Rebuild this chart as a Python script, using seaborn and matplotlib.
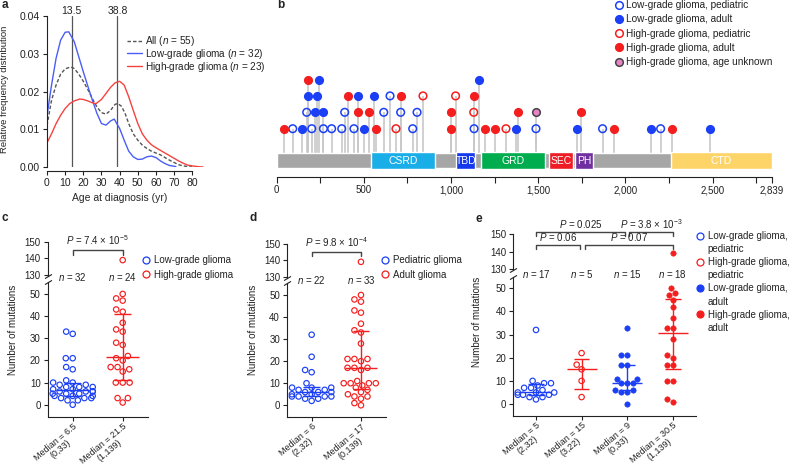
import numpy as np
import pandas as pd
import matplotlib
matplotlib.use("Agg")
import matplotlib.pyplot as plt
from matplotlib.lines import Line2D
import seaborn as sns

# ---------------- data ----------------
# panel a: age density curves
age_low = [0, 2.5, 5, 7.5, 10, 12, 15, 17.5, 20, 22.5, 25, 27.5, 30, 32.5, 35, 37, 40, 42.5, 45,
           47.5, 50, 52.5, 55, 57.5, 60, 62.5, 65, 67.5, 70, 71]
dens_low = [0.0135, 0.0217, 0.0288, 0.0336, 0.0357, 0.0358, 0.0332, 0.0292, 0.0252, 0.0214, 0.0177,
            0.0142, 0.0115, 0.0111, 0.0122, 0.0127, 0.0102, 0.0071, 0.0042, 0.0027, 0.0020, 0.0021,
            0.0027, 0.0029, 0.0025, 0.0016, 0.0009, 0.0004, 0.0002, 0.0001]
age_all = [0, 2.5, 5, 7.5, 10, 13, 15, 17.5, 20, 22.5, 25, 27.5, 30, 32.5, 35, 37.5, 39, 41, 43, 45,
           47.5, 50, 52.5, 55, 57.5, 60, 62.5, 65, 67.5, 70, 72.5, 75, 78, 80]
dens_all = [0.0110, 0.0177, 0.0217, 0.0246, 0.0260, 0.0265, 0.0261, 0.0246, 0.0227, 0.0205, 0.0181,
            0.0159, 0.0144, 0.0140, 0.0150, 0.0166, 0.0168, 0.0161, 0.0142, 0.0115, 0.0088, 0.0071,
            0.0058, 0.0049, 0.0042, 0.0037, 0.0032, 0.0025, 0.0018, 0.0012, 0.0006, 0.0003, 0.0001, 0.0]
age_high = [0, 2.5, 5, 7.5, 10, 12.5, 15, 18, 20, 22.5, 25, 27, 30, 32.5, 35, 37.5, 40, 42.5, 45,
            47.5, 50, 52.5, 55, 57.5, 60, 62.5, 65, 67.5, 70, 72.5, 75, 77.5, 80, 83, 86]
dens_high = [0.0064, 0.0088, 0.0115, 0.0137, 0.0155, 0.0168, 0.0175, 0.0180, 0.0179, 0.0175, 0.0170,
             0.0168, 0.0179, 0.0195, 0.0211, 0.0223, 0.0227, 0.0217, 0.0186, 0.0150, 0.0115, 0.0088,
             0.0071, 0.0059, 0.0051, 0.0044, 0.0037, 0.0030, 0.0023, 0.0016, 0.0010, 0.0005, 0.0003,
             0.0001, 0.0]
peak_ages = [13.5, 38.8]

# panel b: mutation positions (aa) and stack level
lgg_ped_pos = [92, 201, 268, 315, 373, 443, 780, 1132, 1487, 1869, 2202, 172, 390, 614, 711, 805, 650]
lgg_ped_lvl = [1, 1, 1, 1, 1, 1, 1, 1, 1, 1, 1, 2, 2, 2, 2, 2, 3]
lgg_adu_pos = [143, 501, 1372, 1722, 2144, 2483, 220, 268, 182, 233, 466, 556, 245, 1158]
lgg_adu_lvl = [1, 1, 1, 1, 1, 1, 2, 2, 3, 3, 3, 3, 4, 4]
hgg_ped_pos = [684, 1315, 1130, 839, 1026]
hgg_ped_lvl = [1, 1, 2, 3, 3]
hgg_adu_pos = [40, 570, 1000, 1197, 1250, 1936, 2267, 466, 529, 1000, 1382, 1743, 407, 711, 1130, 182]
hgg_adu_lvl = [1, 1, 1, 1, 1, 1, 1, 2, 2, 2, 2, 2, 3, 3, 3, 4]
hgg_unk_pos = [1487]
hgg_unk_lvl = [2]
protein_len = 2839
domain_names = ["CSRD", "TBD", "GRD", "SEC", "PH", "CTD"]
domain_start = [543, 1030, 1172, 1560, 1713, 2260]
domain_end = [909, 1140, 1538, 1698, 1816, 2839]
domain_colors = ["#1aaee8", "#1438ee", "#00ad4e", "#ee1c25", "#7030a0", "#fdd468"]

# panel c
c_groups = ["Low-grade glioma", "High-grade glioma"]
c_low = [33, 32, 21, 21, 17, 16, 11, 10, 10, 9, 9, 8, 8, 8, 7, 7, 6, 6, 6, 6, 5, 5, 5, 4, 4, 4,
         3, 3, 3, 2, 2, 0]
c_high = [139, 50, 48, 47, 43, 42, 37, 34, 33, 28, 27, 22, 21, 20, 17, 17, 16, 15, 10, 10, 10, 3, 3, 1]
c_labels = ["Median = 6.5\n(0,33)", "Median = 21.5\n(1,139)"]

# panel d
d_groups = ["Pediatric glioma", "Adult glioma"]
d_ped = [32, 22, 16, 15, 10, 8, 8, 8, 7, 7, 6, 6, 6, 5, 5, 4, 4, 4, 4, 3, 3, 2]
d_adu = [139, 50, 48, 47, 43, 42, 37, 34, 33, 28, 21, 21, 21, 20, 17, 17, 17, 16, 11, 10, 10, 10,
         10, 9, 8, 7, 6, 5, 4, 4, 3, 1, 0]
d_labels = ["Median = 6\n(2,32)", "Median = 17\n(0,139)"]

# panel e
e_groups = ["LGG ped", "HGG ped", "LGG adult", "HGG adult"]
e_lgg_ped = [32, 10, 9, 9, 8, 7, 7, 6, 5, 5, 5, 4, 4, 4, 3, 3, 2]
e_hgg_ped = [22, 17, 15, 10, 3]
e_lgg_adu = [33, 21, 21, 17, 17, 11, 11, 9, 9, 9, 6, 6, 5, 5, 0]
e_hgg_adu = [139, 50, 48, 47, 45, 42, 37, 33, 33, 28, 21, 20, 17, 17, 10, 10, 2, 1]
e_labels = ["Median = 5\n(2,32)", "Median = 15\n(3,22)", "Median = 9\n(0,33)", "Median = 30.5\n(1,139)"]
e_legend = ["Low-grade glioma,", "pediatric", "High-grade glioma,", "pediatric",
            "Low-grade glioma,", "adult", "High-grade glioma,", "adult"]

BLUE = "#1b3ff5"
RED = "#f41e1e"
PINK = "#e983c7"
W, H = 800, 474

sns.set_style("ticks")
plt.rcParams["font.family"] = ["Liberation Sans", "DejaVu Sans"]
plt.rcParams["mathtext.fontset"] = "custom"
plt.rcParams["mathtext.rm"] = "Liberation Sans"
plt.rcParams["mathtext.it"] = "Liberation Sans:italic"
plt.rcParams.update({"axes.linewidth": 0.8, "xtick.major.width": 0.8, "ytick.major.width": 0.8,
                     "xtick.minor.width": 0.8, "xtick.major.size": 3, "ytick.major.size": 3,
                     "xtick.color": "#222222", "ytick.color": "#222222",
                     "axes.edgecolor": "#222222", "text.color": "#222222"})


def px_rect(l, t, r, b):
    return [l / W, 1 - b / H, (r - l) / W, (b - t) / H]


fig = plt.figure(figsize=(8, 4.74), dpi=100)

# ---------------- a ----------------
ax = fig.add_axes(px_rect(47, 16, 206.8, 167))
sns.lineplot(x=age_all, y=dens_all, ax=ax, color="#555555", lw=1, ls=(0, (2.5, 1.5)), label="All ($n$ = 55)")
sns.lineplot(x=age_low, y=dens_low, ax=ax, color="#4a5ef5", lw=1, label="Low-grade glioma ($n$ = 32)")
sns.lineplot(x=age_high, y=dens_high, ax=ax, color="#f4433f", lw=1, label="High-grade glioma ($n$ = 23)")
for a in peak_ages:
    ax.axvline(a, color="#555555", lw=0.9, zorder=0)
    ax.text(a, 0.0412, f"{a}", ha="center", va="center", fontsize=7.5)
ax.set_xlim(0, 88)
ax.set_ylim(0, 0.04)
ax.set_xticks(range(0, 81, 10))
ax.set_yticks([0, 0.01, 0.02, 0.03, 0.04])
ax.set_yticklabels(["0.00", "0.01", "0.02", "0.03", "0.04"])
ax.tick_params(labelsize=7.5, pad=2)
sns.despine(ax=ax)
ax.spines["bottom"].set_position(("outward", 3))
ax.spines["bottom"].set_bounds(0, 80)
ax.set_xlabel("Age at diagnosis (yr)", fontsize=7.5)
ax.xaxis.set_label_coords(40 / 88, -0.175)
ax.set_ylabel("")
fig.text(5 / W, 1 - 89 / H, "Relative frequency distribution", rotation=90, ha="center", va="center",
         fontsize=6.8)
ax.legend(loc="upper left", bbox_to_anchor=(127 / W, 1 - 34 / H), bbox_transform=fig.transFigure,
          frameon=False, fontsize=7.2, borderpad=0, borderaxespad=0, handlelength=1.5,
          handletextpad=0.3, labelspacing=-0.12)

# ---------------- b ----------------
ax = fig.add_axes(px_rect(276.7, 70, 771.7, 177))
bar_lo, bar_hi = -1.396, -0.482
bar_c, bar_h = (bar_lo + bar_hi) / 2, bar_hi - bar_lo
ax.barh(bar_c, protein_len, left=0, height=bar_h, color="#a6a6a6", zorder=1)
for name, s, e, col in zip(domain_names, domain_start, domain_end, domain_colors):
    ax.barh(bar_c, e - s, left=s, height=bar_h * 1.15, color=col, zorder=2)
    ax.text((s + e) / 2, bar_c, name, color="white", ha="center", va="center", fontsize=7.5, zorder=3)

groups_b = [
    (lgg_ped_pos, lgg_ped_lvl, "none", BLUE, "Low-grade glioma, pediatric"),
    (lgg_adu_pos, lgg_adu_lvl, BLUE, BLUE, "Low-grade glioma, adult"),
    (hgg_ped_pos, hgg_ped_lvl, "none", RED, "High-grade glioma, pediatric"),
    (hgg_adu_pos, hgg_adu_lvl, RED, RED, "High-grade glioma, adult"),
    (hgg_unk_pos, hgg_unk_lvl, PINK, "#444444", "High-grade glioma, age unknown"),
]
handles_b = []
for pos, lvl, fc, ec, lab in groups_b:
    ax.vlines(pos, bar_hi, lvl, color="#c8c8c8", lw=1.2, zorder=0)
    sns.scatterplot(x=pos, y=lvl, ax=ax, s=30, facecolor=fc, edgecolor=ec, linewidth=1.1, zorder=4)
    handles_b.append(Line2D([], [], ls="none", marker="o", ms=5.5, mfc=fc, mec=ec, mew=1.1))
ax.set_xlim(0, protein_len)
ax.set_ylim(-1.945, 4.58)
ax.set_xticks([0, 500, 1000, 1500, 2000, 2500, protein_len])
ax.set_xticklabels(["0", "500", "1,000", "1,500", "2,000", "2,500", "2,839"])
ax.set_xticks(list(range(250, 2800, 500)), minor=True)
ax.tick_params(axis="x", which="both", length=4, labelsize=7, pad=2)
ax.set_yticks([])
sns.despine(ax=ax, left=True)
fig.legend(handles_b, [g[4] for g in groups_b], loc="upper left", bbox_to_anchor=(615.8 / W, 1 - 0.2 / H),
           frameon=False, fontsize=7.2, borderpad=0, borderaxespad=0, handlelength=0.7,
           handletextpad=0.35, labelspacing=0.42)


# ---------------- c, d, e ----------------
def style_points(colls, color, filled):
    for coll in colls:
        coll.set_edgecolor(color)
        coll.set_facecolor(color if filled else "none")
        coll.set_linewidth(0.4 if filled else 0.85)


def mutation_panel(low_px, top_px, low_ylim, cats, vals, colors, filled, labels, n_y):
    ax_low = fig.add_axes(px_rect(*low_px))
    ax_top = fig.add_axes(px_rect(*top_px))
    for i, (cat, v) in enumerate(zip(cats, vals)):
        df = pd.DataFrame({"group": cat, "mutations": v})
        n0 = len(ax_low.collections)
        sns.swarmplot(data=df[df.mutations < 100], x="group", y="mutations", order=cats,
                      color=colors[i], size=3.9, ax=ax_low, zorder=3)
        style_points(ax_low.collections[n0:], colors[i], filled[i])
        hi = df[df.mutations >= 100]
        if len(hi):
            n0 = len(ax_top.collections)
            sns.stripplot(data=hi, x="group", y="mutations", order=cats, color=colors[i],
                          size=3.9, jitter=False, ax=ax_top, zorder=3)
            style_points(ax_top.collections[n0:], colors[i], filled[i])
        med = np.median(v)
        q1, q3 = np.percentile(v, [25, 75], method="weibull")
        ax_low.hlines(med, i - 0.33, i + 0.33, color=colors[i], lw=1, zorder=4)
        ax_low.hlines([q1, q3], i - 0.17, i + 0.17, color=colors[i], lw=1, zorder=4)
        ax_low.vlines(i, q1, q3, color=colors[i], lw=1, zorder=4)
        ax_top.text(i, n_y, f"$n$ = {len(v)}", ha="center", va="center", fontsize=7, clip_on=False)
    for a in (ax_low, ax_top):
        a.set_xlim(-0.5, len(cats) - 0.5)
        a.set_xlabel("")
        a.set_ylabel("")
        a.tick_params(labelsize=7, pad=2)
    ax_low.set_ylim(*low_ylim)
    ax_low.set_yticks(range(0, 51, 10))
    ax_low.set_xticks(range(len(cats)))
    ax_low.set_xticklabels(labels, rotation=40, ha="right", va="top", rotation_mode="anchor",
                           multialignment="center", fontsize=6.5, linespacing=0.95)
    ax_low.tick_params(axis="x", pad=0.5)
    sns.despine(ax=ax_low)
    ax_top.set_ylim(129.5, 150)
    ax_top.set_yticks([130, 140, 150])
    ax_top.set_xticks([])
    sns.despine(ax=ax_top, bottom=True)
    kw = dict(marker=[(-1, -0.6), (1, 0.6)], markersize=5, ls="none", color="#222222", mec="#222222",
              mew=0.8, clip_on=False)
    ax_top.plot([0], [0], transform=ax_top.transAxes, **kw)
    ax_low.plot([0], [1], transform=ax_low.transAxes, **kw)
    return ax_top, ax_low


def bracket(ax, x1, x2, y, h, text, ty):
    ax.plot([x1, x1, x2, x2], [y - h, y, y, y - h], color="#444444", lw=1, clip_on=False)
    ax.text((x1 + x2) / 2, ty, text, ha="center", va="center", fontsize=7, clip_on=False)


def open_handles(cols, fills):
    return [Line2D([], [], ls="none", marker="o", ms=5, mfc=c if f else "none", mec=c, mew=0.9)
            for c, f in zip(cols, fills)]


# c
ax_top, ax_low = mutation_panel((47.7, 282.0, 147.7, 416.7), (47.7, 242.3, 147.7, 275.5), (-5.4, 55.4),
                                c_groups, [c_low, c_high], [BLUE, RED], [False, False], c_labels, 128.6)
bracket(ax_top, 0, 1, 145.2, 3, r"$P$ = 7.4 × 10$^{-5}$", 151.4)
fig.text(13 / W, 1 - 329.5 / H, "Number of mutations", rotation=90, ha="center", va="center", fontsize=7)
fig.legend(open_handles([BLUE, RED], [False, False]), c_groups, loc="upper left",
           bbox_to_anchor=(142.1 / W, 1 - 255 / H), frameon=False, fontsize=7,
           borderpad=0, borderaxespad=0, handlelength=0.8, handletextpad=0.42, labelspacing=0.5)

# d
ax_top, ax_low = mutation_panel((287, 283.1, 385.6, 417.2), (287, 243.7, 385.6, 277.5), (-5.4, 55.4),
                                d_groups, [d_ped, d_adu], [BLUE, RED], [False, False], d_labels, 128)
bracket(ax_top, 0, 1, 144.8, 2.5, r"$P$ = 9.8 × 10$^{-4}$", 150.8)
fig.text(253 / W, 1 - 330 / H, "Number of mutations", rotation=90, ha="center", va="center", fontsize=7)
fig.legend(open_handles([BLUE, RED], [False, False]), d_groups, loc="upper left",
           bbox_to_anchor=(381.1 / W, 1 - 255 / H), frameon=False, fontsize=7,
           borderpad=0, borderaxespad=0, handlelength=0.8, handletextpad=0.42, labelspacing=0.5)

# e
ax_top, ax_low = mutation_panel((513.2, 276.7, 695.6, 415.6), (513.2, 234.3, 695.6, 269.6), (-5, 55),
                                e_groups, [e_lgg_ped, e_hgg_ped, e_lgg_adu, e_hgg_adu],
                                [BLUE, RED, BLUE, RED], [False, False, True, True], e_labels, 126.9)
bracket(ax_top, 0, 1.95, 151.2, 2, r"$P$ = 0.025", 156)
bracket(ax_top, 2.05, 3, 151.2, 2, r"$P$ = 3.8 × 10$^{-3}$", 156)
bracket(ax_top, 0, 0.97, 143.8, 2.2, r"$P$ = 0.06", 148.3)
bracket(ax_top, 1.08, 3, 143.8, 2.2, r"$P$ = 0.07", 148.3)
fig.text(477 / W, 1 - 322 / H, "Number of mutations", rotation=90, ha="center", va="center", fontsize=7)
e_handles = []
for h in open_handles([BLUE, RED, BLUE, RED], [False, False, True, True]):
    e_handles += [h, Line2D([], [], ls="none")]
fig.legend(e_handles, e_legend, loc="upper left", bbox_to_anchor=(696 / W, 1 - 231 / H), frameon=False,
           fontsize=7, borderpad=0, borderaxespad=0, handlelength=0.8, handletextpad=0.42, labelspacing=0.32)

# panel letters
for lab, x, y in [("a", 2, 5), ("b", 277, 5), ("c", 2, 218), ("d", 250, 218), ("e", 476, 219)]:
    fig.text(x / W, 1 - y / H, lab, fontsize=8.5, fontweight="bold", ha="left", va="center")

fig.savefig("out.png", dpi=100)
